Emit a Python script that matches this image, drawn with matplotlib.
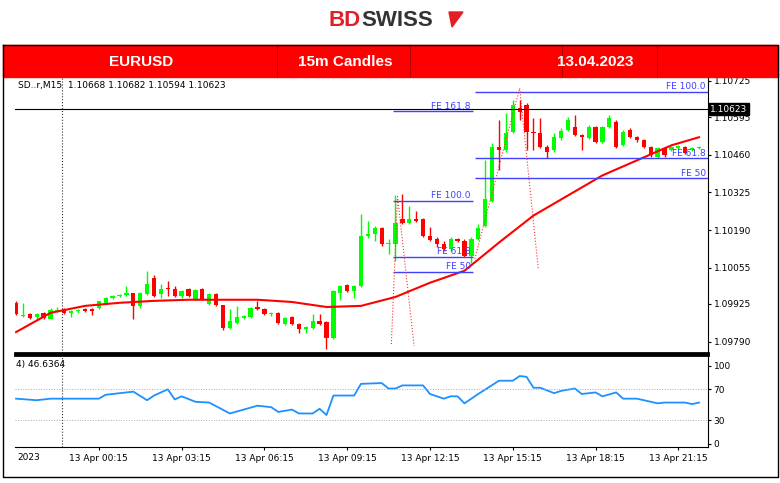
import matplotlib.pyplot as plt
from matplotlib.patches import Rectangle, Polygon
from matplotlib.transforms import blended_transform_factory

W, H = 780, 483

# candle data in points (price * 1e5)
opens = [109929, 109882, 109889, 109878, 109893, 109871, 109900, 109907, 109893, 109900,
         109907, 109907, 109911, 109929, 109947, 109954, 109958, 109965, 109918, 109961,
         110019, 109961, 109983, 109979, 109954, 109979, 109943, 109979, 109925, 109961,
         109922, 109839, 109857, 109875, 109878, 109914, 109907, 109889, 109893, 109853,
         109878, 109853, 109835, 109839, 109864, 109860, 109803, 109965, 109994, 109972,
         109990, 110170, 110177, 110199, 110141, 110141, 110231, 110217, 110231, 110231,
         110170, 110159, 110141, 110123, 110159, 110152, 110098, 110159, 110206, 110296,
         110487, 110476, 110541, 110627, 110638, 110541, 110537, 110487, 110476, 110519,
         110548, 110559, 110530, 110519, 110559, 110505, 110559, 110577, 110494, 110548,
         110523, 110512, 110487, 110451, 110483, 110476, 110483, 110487, 110476, 110483]
closes = [109889, 109886, 109875, 109889, 109875, 109904, 109904, 109893, 109900, 109904,
          109900, 109900, 109936, 109947, 109954, 109958, 109965, 109918, 109965, 109997,
          109954, 109979, 109979, 109954, 109972, 109954, 109976, 109943, 109961, 109922,
          109839, 109864, 109878, 109882, 109911, 109907, 109889, 109893, 109857, 109875,
          109853, 109835, 109842, 109864, 109853, 109803, 109972, 109990, 109972, 109990,
          110170, 110177, 110199, 110141, 110145, 110217, 110217, 110231, 110224, 110170,
          110156, 110141, 110123, 110159, 110152, 110098, 110159, 110199, 110303, 110487,
          110476, 110537, 110638, 110613, 110541, 110537, 110487, 110469, 110523, 110545,
          110584, 110530, 110523, 110559, 110505, 110559, 110591, 110487, 110541, 110523,
          110512, 110487, 110458, 110483, 110458, 110487, 110490, 110465, 110483, 110487]
highs = [109936, 109929, 109893, 109893, 109896, 109911, 109914, 109911, 109904, 109907,
         109911, 109911, 109936, 109950, 109958, 109961, 109990, 109965, 109968, 110044,
         110030, 109997, 110008, 109990, 109976, 109983, 109979, 109983, 109965, 109965,
         109922, 109907, 109918, 109886, 109914, 109936, 109911, 109896, 109896, 109878,
         109882, 109857, 109846, 109889, 109889, 109864, 109976, 109994, 109997, 109994,
         110249, 110224, 110206, 110202, 110159, 110314, 110321, 110278, 110260, 110235,
         110202, 110166, 110152, 110166, 110163, 110159, 110166, 110210, 110440, 110501,
         110584, 110609, 110656, 110656, 110645, 110591, 110591, 110494, 110537, 110555,
         110595, 110602, 110534, 110566, 110562, 110562, 110602, 110584, 110548, 110555,
         110526, 110516, 110490, 110487, 110487, 110490, 110494, 110490, 110487, 110490]
lows = [109886, 109878, 109871, 109871, 109871, 109871, 109896, 109889, 109878, 109893,
        109896, 109886, 109907, 109925, 109943, 109950, 109954, 109871, 109911, 109958,
        109950, 109947, 109954, 109950, 109947, 109950, 109940, 109940, 109922, 109918,
        109832, 109835, 109853, 109871, 109875, 109904, 109886, 109882, 109853, 109850,
        109850, 109821, 109821, 109835, 109850, 109763, 109799, 109940, 109968, 109947,
        109986, 110163, 110152, 110134, 110105, 110080, 110210, 110210, 110220, 110166,
        110152, 110130, 110116, 110116, 110148, 110094, 110073, 110156, 110202, 110292,
        110404, 110469, 110537, 110584, 110476, 110476, 110483, 110447, 110469, 110512,
        110545, 110526, 110476, 110516, 110501, 110501, 110555, 110483, 110490, 110519,
        110505, 110483, 110451, 110447, 110451, 110472, 110480, 110462, 110472, 110480]

# moving average, read every 5 candles
ma_idx = [0, 5, 10, 15, 20, 25, 30, 35, 40, 45, 50, 55, 60, 65, 70, 75, 80, 85, 90, 95, 99]
ma_val = [109824, 109893, 109918, 109929, 109936, 109940, 109940, 109940, 109932, 109914,
          109918, 109950, 110001, 110044, 110145, 110242, 110314, 110386, 110440, 110494, 110523]

# oscillator
osc_idx = [0, 3, 5, 12, 13, 17, 19, 20, 22, 23, 24, 26, 28, 31, 33, 35, 37, 38, 40, 41,
           43, 44, 45, 46, 49, 50, 53, 54, 55, 56, 59, 60, 62, 63, 64, 65, 67, 70, 72, 73,
           74, 75, 76, 78, 79, 81, 82, 84, 85, 87, 88, 90, 93, 94, 97, 98, 99]
osc_val = [58, 56, 58, 58, 63, 67, 56, 62, 70, 57, 61, 54, 53, 39, 44, 49, 47, 41, 44, 39,
           39, 45, 37, 62, 62, 77, 78, 71, 71, 75, 75, 64, 58, 61, 61, 52, 64, 81, 81, 87,
           86, 72, 72, 65, 68, 71, 64, 66, 61, 66, 58, 58, 52, 53, 53, 51, 53]

price_ticks = [1.09790, 1.09925, 1.10055, 1.10190, 1.10325, 1.10460, 1.10595, 1.10725]
time_labels = ['13 Apr 00:15', '13 Apr 03:15', '13 Apr 06:15', '13 Apr 09:15',
               '13 Apr 12:15', '13 Apr 15:15', '13 Apr 18:15', '13 Apr 21:15']
time_idx = [12, 24, 36, 48, 60, 72, 84, 96]
last_price = 1.10623

# fibo expansion levels: (label, price, start idx, end idx)
fibo = [('FE 100.0', 1.10296, 54.6, 66.2), ('FE 61.8', 1.10094, 54.6, 66.2),
        ('FE 50', 1.10040, 54.6, 66.2), ('FE 161.8', 1.10616, 54.6, 66.2),
        ('FE 100.0', 1.10685, 66.5, 100.3), ('FE 61.8', 1.10447, 66.5, 100.3),
        ('FE 50', 1.10375, 66.5, 100.3)]
zig1_x = [54.4, 55.3, 57.7]
zig1_y = [1.09781, 1.10310, 1.09774]
zig2_x = [66.5, 73.0, 75.7]
zig2_y = [1.10087, 1.10699, 1.10051]


def rect(x0, y0, x1, y1):
    return [x0 / W, 1 - y1 / H, (x1 - x0) / W, (y1 - y0) / H]


plt.rcParams['font.family'] = ['DejaVu Sans']
fig = plt.figure(figsize=(W / 100, H / 100), dpi=100)
fs = 6.5

# header
fig.text(361 / W, 1 - 20 / H, 'BD', color='#e31e24', fontsize=16, fontweight='bold',
         ha='right', va='center', family='Liberation Sans')
fig.text(361 / W, 1 - 20 / H, 'SWISS', color='#333333', fontsize=16, fontweight='bold',
         ha='left', va='center', family='Liberation Sans')
fig.patches.append(Polygon([(449 / W, 1 - 12 / H), (463 / W, 1 - 12 / H), (452 / W, 1 - 27 / H)],
                           closed=True, color='#e31e24', transform=fig.transFigure))
fig.patches.append(Rectangle((3 / W, 1 - 77 / H), 775 / W, 32 / H, color='#ff0000',
                             transform=fig.transFigure))
for xd in [277, 410, 562, 657]:
    fig.add_artist(plt.Line2D([xd / W, xd / W], [1 - 77 / H, 1 - 45 / H], color='#b00000', lw=0.6))
for txt, xc in [('EURUSD', 141), ('15m Candles', 345), ('13.04.2023', 595)]:
    fig.text(xc / W, 1 - 62 / H, txt, color='white', fontsize=11, fontweight='bold',
             ha='center', va='center', family='Liberation Sans')
fig.add_artist(plt.Line2D([3 / W, 3 / W, 778 / W, 778 / W, 3 / W],
                          [1 - 45 / H, 1 - 477 / H, 1 - 477 / H, 1 - 45 / H, 1 - 45 / H],
                          color='black', lw=1))

# main price panel
ax = fig.add_axes(rect(15, 77, 708, 353))
for i in range(len(opens)):
    o, c = opens[i] / 1e5, closes[i] / 1e5
    col = '#00ff00' if c >= o else '#ff0000'
    ax.vlines(i, lows[i] / 1e5, highs[i] / 1e5, color=col, lw=1)
    ax.bar(i, max(abs(c - o), 0.000012), bottom=min(o, c), width=0.62, color=col)
ax.plot(ma_idx, [v / 1e5 for v in ma_val], color='#ff0000', lw=1.5)
for lab, p, x0, x1 in fibo:
    ax.hlines(p, x0, x1, color='#4040ff', lw=1)
    ax.text(x1 - 0.3, p + 0.00002, lab, color='#4040ff', fontsize=fs, ha='right', va='bottom')
ax.plot(zig1_x, zig1_y, color='#ff3030', lw=0.8, ls=':')
ax.plot(zig2_x, zig2_y, color='#ff3030', lw=0.8, ls=':')
ax.axhline(last_price, color='black', lw=0.8)
ax.axvline(6.7, color='#333333', lw=0.8, ls=':')
ax.set_xlim(-0.15, 100.3)
ax.set_ylim(1.09749, 1.10739)
ax.set_xticks([])
ax.yaxis.tick_right()
ax.set_yticks(price_ticks)
ax.set_yticklabels(['%.5f' % p for p in price_ticks], fontsize=fs)
ax.tick_params(axis='y', length=2, pad=2)
for s in ['top', 'left']:
    ax.spines[s].set_visible(False)
ax.spines['bottom'].set_linewidth(2)
ax.spines['right'].set_linewidth(0.8)
tr = blended_transform_factory(ax.transAxes, ax.transData)
ax.text(1.003, last_price, '%.5f' % last_price, transform=tr, color='white', fontsize=fs,
        va='center', ha='left', bbox=dict(boxstyle='square,pad=0.15', fc='black', ec='black'))
ax.text(0.005, 0.985, 'SD..r,M15  1.10668 1.10682 1.10594 1.10623', transform=ax.transAxes,
        fontsize=fs, va='top', ha='left')

# oscillator panel
ax2 = fig.add_axes(rect(15, 355, 708, 447))
ax2.plot(osc_idx, osc_val, color='#1e90ff', lw=1.3)
for lv in [70, 30]:
    ax2.axhline(lv, color='#aaaaaa', lw=0.7, ls=':')
ax2.axvline(6.7, color='#333333', lw=0.8, ls=':')
ax2.set_xlim(-0.15, 100.3)
ax2.set_ylim(-4, 114)
ax2.yaxis.tick_right()
ax2.set_yticks([0, 30, 70, 100])
ax2.set_yticklabels(['0', '30', '70', '100'], fontsize=fs)
ax2.tick_params(axis='y', length=2, pad=2)
ax2.set_xticks(time_idx)
ax2.set_xticklabels(time_labels, fontsize=fs)
ax2.tick_params(axis='x', length=2, pad=3)
ax2.spines['left'].set_visible(False)
ax2.spines['top'].set_linewidth(2)
ax2.text(0.002, 0.95, '4) 46.6364', transform=ax2.transAxes, fontsize=fs, va='top', ha='left')
fig.text(17 / W, 1 - 458 / H, '2023', fontsize=fs, va='center', ha='left')

fig.savefig('out.png', dpi=100)
